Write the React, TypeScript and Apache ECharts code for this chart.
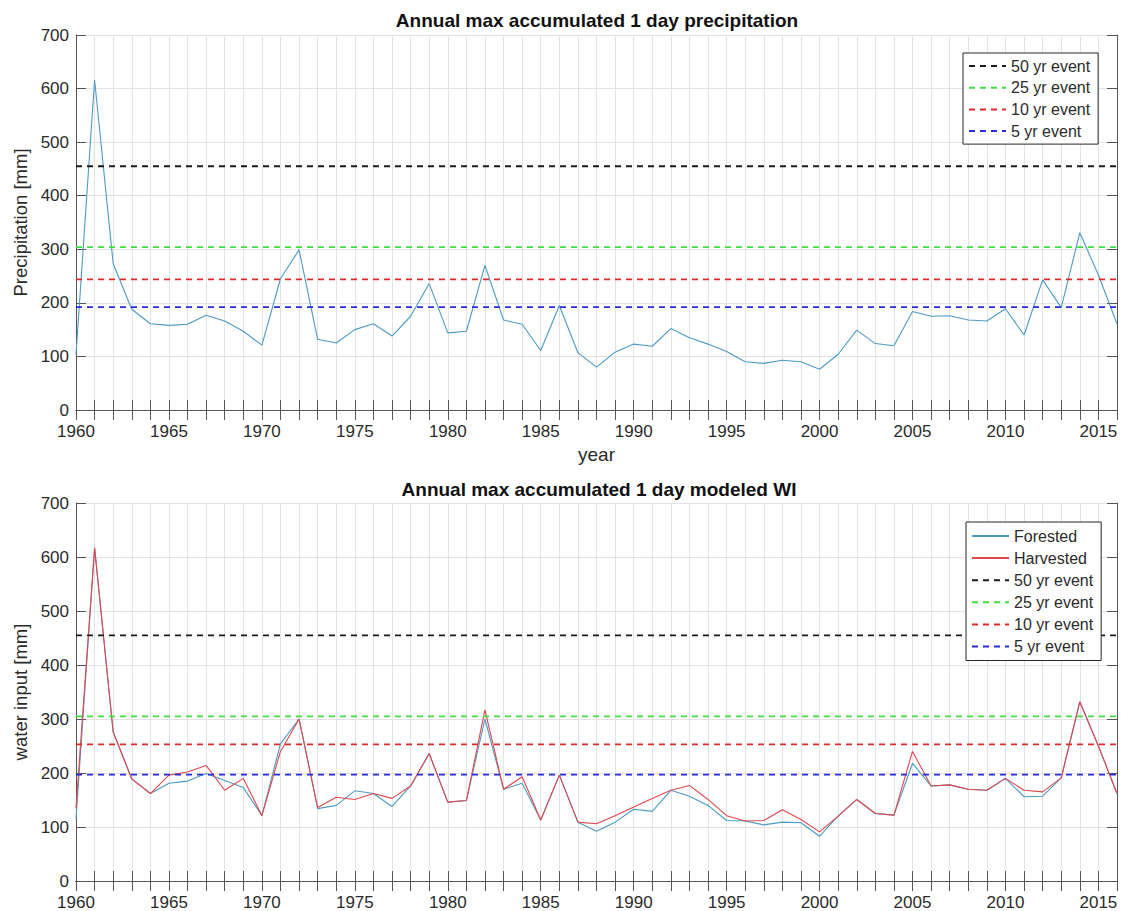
import React, { useEffect, useRef } from "react";
import * as echarts from "echarts";

const years = [
  1960, 1961, 1962, 1963, 1964, 1965, 1966, 1967, 1968, 1969,
  1970, 1971, 1972, 1973, 1974, 1975, 1976, 1977, 1978, 1979,
  1980, 1981, 1982, 1983, 1984, 1985, 1986, 1987, 1988, 1989,
  1990, 1991, 1992, 1993, 1994, 1995, 1996, 1997, 1998, 1999,
  2000, 2001, 2002, 2003, 2004, 2005, 2006, 2007, 2008, 2009,
  2010, 2011, 2012, 2013, 2014, 2015, 2016,
];

const precipitation = [
  103, 616, 273, 188, 161, 158, 160, 177, 166, 147,
  121, 245, 299, 132, 125, 150, 161, 138, 175, 236,
  144, 147, 270, 168, 160, 111, 195, 107, 80, 108,
  123, 119, 152, 135, 123, 109, 90, 87, 93, 90,
  76, 104, 149, 124, 120, 184, 175, 176, 168, 166,
  189, 140, 243, 191, 331, 252, 161,
];

const forested = [
  115, 617, 276, 189, 162, 181, 185, 199, 186, 173,
  121, 254, 300, 134, 140, 167, 162, 138, 176, 236,
  146, 149, 300, 170, 181, 113, 196, 109, 92, 109,
  133, 129, 168, 157, 140, 112, 111, 104, 109, 108,
  83, 120, 151, 125, 122, 218, 176, 178, 170, 168,
  190, 156, 157, 191, 332, 250, 162,
];

const harvested = [
  135, 617, 276, 189, 162, 196, 202, 214, 168, 190,
  121, 240, 300, 136, 155, 151, 162, 153, 176, 236,
  146, 149, 317, 170, 193, 113, 196, 109, 106, 121,
  137, 153, 168, 177, 151, 121, 111, 112, 132, 114,
  91, 120, 151, 125, 122, 240, 176, 178, 170, 168,
  190, 168, 165, 191, 332, 250, 162,
];

const eventNames = ["50 yr event", "25 yr event", "10 yr event", "5 yr event"];
const eventColors = ["#1a1a1a", "#3ee03e", "#e02a2a", "#2a2ae0"];
const precipEvents = [455, 304, 244, 192];
const wiEvents = [455, 305, 253, 197];

const xMin = 1960;
const xMax = 2016;

const FONT = "'Liberation Sans', Arial, Helvetica, sans-serif";
const AXIS_COLOR = "#555555";
const TEXT_COLOR = "#2b2b2b";

function pairs(vals: number[]) {
  return years.map((y, i) => [y, vals[i]]);
}

function eventSeries(vals: number[], gi: number) {
  return vals.map((v, k) => ({
    name: eventNames[k],
    type: "line",
    xAxisIndex: gi * 2,
    yAxisIndex: gi * 2,
    symbol: "none",
    showSymbol: false,
    silent: true,
    data: [
      [xMin, v],
      [xMax, v],
    ],
    lineStyle: { color: eventColors[k], width: 1.8, type: [6, 5] },
    itemStyle: { color: eventColors[k] },
  }));
}

function makeAxes(gi: number, withName: boolean) {
  const xMain: any = {
    type: "value",
    gridIndex: gi,
    min: xMin,
    max: xMax,
    interval: 1,
    position: "bottom",
    axisLine: { show: true, lineStyle: { color: AXIS_COLOR, width: 1 } },
    axisTick: { show: true, inside: true, length: 10, lineStyle: { color: AXIS_COLOR } },
    axisLabel: {
      show: true,
      margin: 13,
      color: TEXT_COLOR,
      fontSize: 17,
      fontFamily: FONT,
      formatter: (v: number) => (v % 5 === 0 ? String(v) : ""),
    },
    splitLine: { show: true, lineStyle: { color: "#e3e3e3", width: 1 } },
  };
  if (withName) {
    xMain.name = "year";
    xMain.nameLocation = "middle";
    xMain.nameGap = 35;
    xMain.nameTextStyle = { color: TEXT_COLOR, fontSize: 19, fontFamily: FONT };
  }
  const xTop: any = {
    type: "value",
    gridIndex: gi,
    min: xMin,
    max: xMax,
    interval: 1,
    position: "top",
    axisLine: { show: true, lineStyle: { color: AXIS_COLOR, width: 1 } },
    axisTick: { show: true, inside: true, length: 10, lineStyle: { color: AXIS_COLOR } },
    axisLabel: { show: false },
    splitLine: { show: false },
  };
  const yMain: any = {
    type: "value",
    gridIndex: gi,
    min: 0,
    max: 700,
    interval: 100,
    position: "left",
    name: gi === 0 ? "Precipitation [mm]" : "water input [mm]",
    nameLocation: "middle",
    nameGap: 42,
    nameTextStyle: { color: TEXT_COLOR, fontSize: 18.5, fontFamily: FONT },
    axisLine: { show: true, lineStyle: { color: AXIS_COLOR, width: 1 } },
    axisTick: { show: true, inside: true, length: 10, lineStyle: { color: AXIS_COLOR } },
    axisLabel: { show: true, margin: 7, color: TEXT_COLOR, fontSize: 17, fontFamily: FONT },
    splitLine: { show: true, lineStyle: { color: "#e3e3e3", width: 1 } },
  };
  const yRight: any = {
    type: "value",
    gridIndex: gi,
    min: 0,
    max: 700,
    interval: 100,
    position: "right",
    axisLine: { show: true, lineStyle: { color: AXIS_COLOR, width: 1 } },
    axisTick: { show: true, inside: true, length: 10, lineStyle: { color: AXIS_COLOR } },
    axisLabel: { show: false },
    splitLine: { show: false },
  };
  return { x: [xMain, xTop], y: [yMain, yRight] };
}

export default function App() {
  const ref = useRef<HTMLDivElement>(null);

  useEffect(() => {
    document.body.style.margin = "0";
    if (!ref.current) return;
    const chart = echarts.init(ref.current, undefined, { renderer: "svg" });
    const a0 = makeAxes(0, true);
    const a1 = makeAxes(1, false);

    const legendCommon = {
      orient: "vertical",
      backgroundColor: "#ffffff",
      borderColor: "#262626",
      borderWidth: 1,
      borderRadius: 0,
      itemWidth: 37,
      itemHeight: 14,
      itemStyle: { opacity: 0, borderWidth: 0 },
      textStyle: { color: TEXT_COLOR, fontSize: 16, fontFamily: FONT },
      selectedMode: false,
    };

    const option: any = {
      animation: false,
      backgroundColor: "#ffffff",
      textStyle: { fontFamily: FONT },
      grid: [
        { left: 76, top: 35, width: 1041, height: 375, containLabel: false },
        { left: 76, top: 503, width: 1041, height: 379, containLabel: false },
      ],
      xAxis: [...a0.x, ...a1.x],
      yAxis: [...a0.y, ...a1.y],
      legend: [
        {
          ...legendCommon,
          left: 963,
          top: 53,
          padding: [5, 8, 5, 5],
          itemGap: 5.7,
          data: eventNames,
        },
        {
          ...legendCommon,
          left: 966,
          top: 522,
          padding: [6, 8, 6, 5],
          itemGap: 6.1,
          data: ["Forested", "Harvested", ...eventNames],
        },
      ],
      graphic: [
        {
          type: "text",
          x: 597,
          y: 20,
          style: {
            text: "Annual max accumulated 1 day precipitation",
            font: `bold 19px ${FONT}`,
            fill: "#111111",
            textAlign: "center",
            textVerticalAlign: "middle",
          },
        },
        {
          type: "text",
          x: 599,
          y: 489,
          style: {
            text: "Annual max accumulated 1 day modeled WI",
            font: `bold 19px ${FONT}`,
            fill: "#111111",
            textAlign: "center",
            textVerticalAlign: "middle",
          },
        },
      ],
      series: [
        {
          name: "Precipitation",
          type: "line",
          xAxisIndex: 0,
          yAxisIndex: 0,
          symbol: "none",
          showSymbol: false,
          data: pairs(precipitation),
          lineStyle: { color: "#4d9ac6", width: 1.1 },
          itemStyle: { color: "#4d9ac6" },
        },
        ...eventSeries(precipEvents, 0),
        {
          name: "Forested",
          type: "line",
          xAxisIndex: 2,
          yAxisIndex: 2,
          symbol: "none",
          showSymbol: false,
          data: pairs(forested),
          lineStyle: { color: "#4d9ac6", width: 1.1 },
          itemStyle: { color: "#4d9ac6" },
        },
        {
          name: "Harvested",
          type: "line",
          xAxisIndex: 2,
          yAxisIndex: 2,
          symbol: "none",
          showSymbol: false,
          data: pairs(harvested),
          lineStyle: { color: "#e0474c", width: 1.1 },
          itemStyle: { color: "#e0474c" },
        },
        ...eventSeries(wiEvents, 1),
      ],
    };
    chart.setOption(option);
    return () => chart.dispose();
  }, []);

  return <div ref={ref} style={{ width: 1126, height: 911 }} />;
}
